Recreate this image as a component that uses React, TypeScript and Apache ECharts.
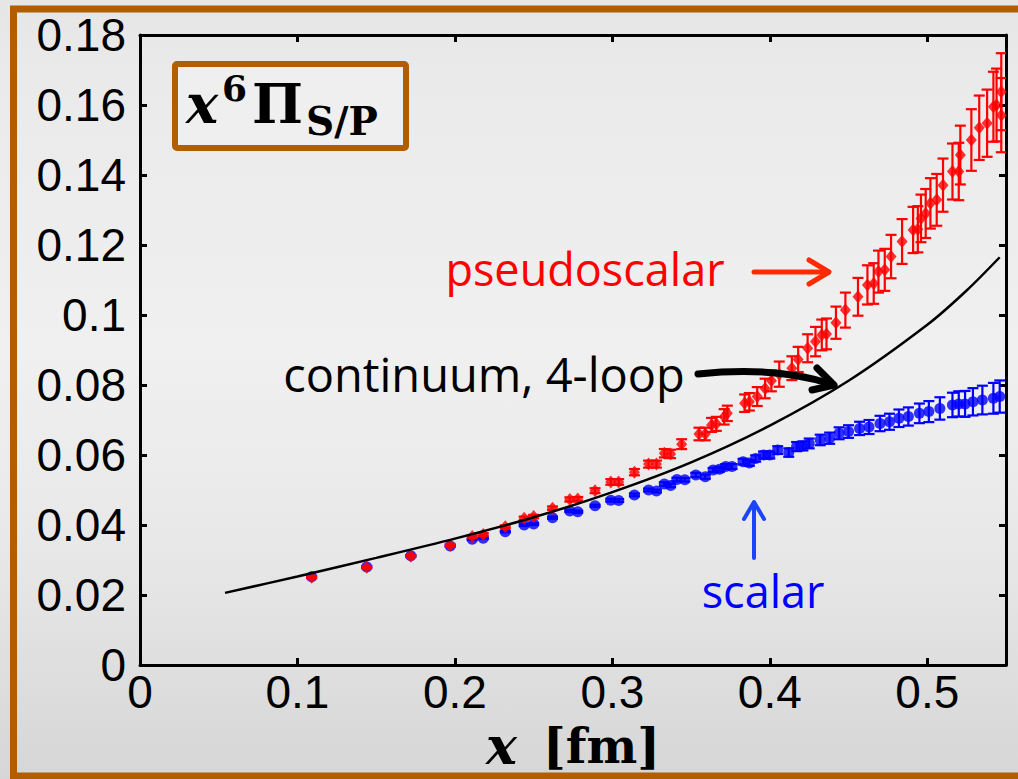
import React, { useEffect, useRef } from "react";
import * as echarts from "echarts";

// Axis ranges and ticks
const xRange = [0, 0.55];
const yRange = [0, 0.18];
const xStep = 0.1;
const yStep = 0.02;

// Pseudoscalar correlator: position, value, error
const pseudoX = [
  0.109, 0.144, 0.172, 0.197, 0.211, 0.218, 0.232, 0.244, 0.25, 0.262, 0.273, 0.278, 0.289,
  0.299, 0.304, 0.314, 0.323, 0.328, 0.333, 0.337, 0.344, 0.355, 0.359, 0.363, 0.366, 0.371,
  0.373, 0.384, 0.387, 0.392, 0.397, 0.401, 0.406, 0.414, 0.418, 0.424, 0.429, 0.433, 0.436,
  0.442, 0.448, 0.456, 0.462, 0.466, 0.469, 0.473, 0.477, 0.484, 0.491, 0.494, 0.496, 0.499,
  0.502, 0.506, 0.51, 0.516, 0.52, 0.521, 0.528, 0.533, 0.538, 0.542, 0.544, 0.547, 0.547,
];
const pseudoY = [
  0.0251, 0.0279, 0.0311, 0.0342, 0.0367, 0.0373, 0.0395, 0.0419, 0.0424, 0.0448, 0.0473,
  0.0474, 0.0498, 0.0523, 0.0523, 0.0551, 0.0574, 0.0574, 0.0605, 0.0603, 0.0631, 0.066,
  0.066, 0.0686, 0.0689, 0.0709, 0.0719, 0.0748, 0.0752, 0.0767, 0.079, 0.0812, 0.0831,
  0.0848, 0.0873, 0.0905, 0.0924, 0.0943, 0.0946, 0.0978, 0.1014, 0.1052, 0.1086, 0.109,
  0.1124, 0.1129, 0.1167, 0.121, 0.1243, 0.1245, 0.1276, 0.129, 0.1319, 0.1329, 0.1371,
  0.141, 0.141, 0.1457, 0.15, 0.1535, 0.1548, 0.1595, 0.16, 0.1571, 0.1638,
];
const pseudoErr = [
  0.0003, 0.0003, 0.0003, 0.0004, 0.0004, 0.0004, 0.0004, 0.0005, 0.0005, 0.0005, 0.0006,
  0.0006, 0.0007, 0.0008, 0.0008, 0.0009, 0.001, 0.001, 0.0012, 0.0012, 0.0014, 0.0018,
  0.0018, 0.002, 0.002, 0.0022, 0.0022, 0.0025, 0.0025, 0.0027, 0.0028, 0.003, 0.0036,
  0.0034, 0.0036, 0.004, 0.0042, 0.0044, 0.0044, 0.0046, 0.005, 0.0054, 0.0056, 0.0058,
  0.006, 0.006, 0.0062, 0.0064, 0.0066, 0.0066, 0.0068, 0.007, 0.0072, 0.0074, 0.0076,
  0.008, 0.0082, 0.0084, 0.0088, 0.0092, 0.0096, 0.01, 0.0104, 0.0106, 0.011,
];

// Scalar correlator: position, value, error
const scalarX = [
  0.109, 0.144, 0.172, 0.197, 0.211, 0.218, 0.232, 0.244, 0.25, 0.262, 0.273, 0.278, 0.289,
  0.299, 0.304, 0.314, 0.323, 0.328, 0.333, 0.337, 0.341, 0.346, 0.353, 0.359, 0.364, 0.368,
  0.372, 0.376, 0.383, 0.387, 0.391, 0.396, 0.4, 0.405, 0.412, 0.417, 0.421, 0.425, 0.432,
  0.438, 0.444, 0.45, 0.457, 0.463, 0.47, 0.476, 0.482, 0.488, 0.495, 0.501, 0.508, 0.516,
  0.52, 0.524, 0.529, 0.535, 0.542, 0.546,
];
const scalarY = [
  0.0252, 0.028, 0.0312, 0.034, 0.0359, 0.0362, 0.0381, 0.04, 0.0403, 0.0421, 0.044, 0.0438,
  0.0455, 0.0471, 0.047, 0.0486, 0.05, 0.0497, 0.0517, 0.0513, 0.053, 0.0529, 0.0543,
  0.0538, 0.0557, 0.0559, 0.0567, 0.0567, 0.0581, 0.0577, 0.059, 0.06, 0.06, 0.0614,
  0.0607, 0.0624, 0.0626, 0.0633, 0.0643, 0.0648, 0.0662, 0.0667, 0.0676, 0.068, 0.069,
  0.0695, 0.0705, 0.071, 0.0719, 0.0724, 0.0733, 0.0743, 0.0746, 0.0746, 0.0752, 0.0757,
  0.0762, 0.0767,
];
const scalarErr = [
  0.0002, 0.0002, 0.0002, 0.0002, 0.0002, 0.0002, 0.0002, 0.0003, 0.0003, 0.0003, 0.0003,
  0.0003, 0.0003, 0.0004, 0.0004, 0.0004, 0.0004, 0.0004, 0.0005, 0.0005, 0.0005, 0.0005,
  0.0006, 0.0006, 0.0006, 0.0007, 0.0007, 0.0007, 0.0008, 0.0008, 0.0009, 0.001, 0.001,
  0.0011, 0.0012, 0.0013, 0.0013, 0.0014, 0.0015, 0.0016, 0.0017, 0.0018, 0.0019, 0.002,
  0.0022, 0.0023, 0.0025, 0.0026, 0.0028, 0.003, 0.0032, 0.0035, 0.0036, 0.0037, 0.0039,
  0.0041, 0.0044, 0.0046,
];

// Continuum 4-loop perturbative curve
const continuumX = [0.054, 0.1, 0.15, 0.2, 0.25, 0.3, 0.35, 0.4, 0.45, 0.5, 0.525, 0.546];
const continuumY = [0.0206, 0.0253, 0.0306, 0.0361, 0.0422, 0.0494, 0.0579, 0.0684, 0.0812, 0.0972, 0.107, 0.1165];

const BROWN = "#b05e00";
const RED = "#ff0000";
const BLUE = "#0000ff";

const fmtY = (v: number) => String(Number(v.toFixed(2)));
const fmtX = (v: number) =>
  Math.abs(v * 10 - Math.round(v * 10)) < 1e-6 ? String(Number(v.toFixed(1))) : "";

function errorBars(xs: number[], ys: number[], errs: number[], color: string, z: number) {
  return {
    type: "custom",
    z,
    clip: true,
    silent: true,
    data: xs.map((x, i) => [x, ys[i] - errs[i], ys[i] + errs[i]]),
    encode: { x: 0, y: [1, 2] },
    renderItem: (_params: any, api: any) => {
      const x = api.value(0);
      const lo = api.coord([x, api.value(1)]);
      const hi = api.coord([x, api.value(2)]);
      const half = 5.5;
      const style = { stroke: color, lineWidth: 2.2 };
      return {
        type: "group",
        children: [
          { type: "line", shape: { x1: lo[0], y1: lo[1], x2: hi[0], y2: hi[1] }, style },
          { type: "line", shape: { x1: lo[0] - half, y1: lo[1], x2: lo[0] + half, y2: lo[1] }, style },
          { type: "line", shape: { x1: hi[0] - half, y1: hi[1], x2: hi[0] + half, y2: hi[1] }, style },
        ],
      };
    },
  };
}

const axisCommon = {
  axisLine: { show: true, onZero: false, lineStyle: { color: "#000", width: 3 } },
  axisTick: { show: true, inside: true, length: 7, lineStyle: { color: "#000", width: 3 } },
  splitLine: { show: false },
};

export default function App() {
  const ref = useRef<HTMLDivElement>(null);

  useEffect(() => {
    if (!ref.current) return;
    const chart = echarts.init(ref.current, undefined, { renderer: "svg" });

    const annText = (text: string, x: number, y: number, color: string, size = 45) => ({
      type: "text",
      x,
      y,
      z: 50,
      style: {
        text,
        fill: color,
        fontFamily: "Open Sans",
        fontSize: size,
        textAlign: "center",
        textVerticalAlign: "middle",
      },
    });

    const serif = (text: string, x: number, y: number, size: number, italic = false) => ({
      type: "text",
      x,
      y,
      z: 60,
      style: {
        text,
        fill: "#000",
        fontFamily: "DejaVu Serif",
        fontWeight: "bold",
        fontStyle: italic ? "italic" : "normal",
        fontSize: size,
        textAlign: "left",
        textVerticalAlign: "middle",
      },
    });

    chart.setOption({
      animation: false,
      backgroundColor: new echarts.graphic.LinearGradient(0, 0, 0, 1, [
        { offset: 0, color: "#e6e6e6" },
        { offset: 0.1, color: "#eaeaea" },
        { offset: 0.45, color: "#f0f0f0" },
        { offset: 0.7, color: "#e8e8e8" },
        { offset: 1, color: "#d6d6d6" },
      ]),
      grid: { left: 140, right: 12, top: 35, bottom: 114, containLabel: false },
      xAxis: [
        {
          ...axisCommon,
          type: "value",
          position: "bottom",
          min: xRange[0],
          max: xRange[1],
          interval: xStep,
          axisLabel: {
            show: true,
            formatter: fmtX,
            color: "#000",
            fontFamily: "Liberation Sans",
            fontSize: 46,
            margin: 4,
            showMaxLabel: false,
          },
          name: "{v|x}{u|[fm]}",
          nameLocation: "middle",
          nameGap: 44,
          nameTextStyle: {
            fontSize: 30,
            rich: {
              v: {
                fontFamily: "DejaVu Serif",
                fontStyle: "italic",
                fontWeight: "bold",
                fontSize: 52,
                color: "#000",
                padding: [0, 26, 0, 0],
              },
              u: { fontFamily: "DejaVu Serif", fontWeight: "bold", fontSize: 48, color: "#000" },
            },
          },
        },
        {
          ...axisCommon,
          type: "value",
          position: "top",
          min: xRange[0],
          max: xRange[1],
          interval: xStep,
          axisLabel: { show: false },
        },
      ],
      yAxis: [
        {
          ...axisCommon,
          type: "value",
          position: "left",
          min: yRange[0],
          max: yRange[1],
          interval: yStep,
          axisLabel: {
            show: true,
            formatter: fmtY,
            color: "#000",
            fontFamily: "Liberation Sans",
            fontSize: 46,
            margin: 14,
          },
        },
        {
          ...axisCommon,
          type: "value",
          position: "right",
          min: yRange[0],
          max: yRange[1],
          interval: yStep,
          axisLabel: { show: false },
        },
      ],
      series: [
        errorBars(scalarX, scalarY, scalarErr, BLUE, 2),
        {
          type: "scatter",
          z: 3,
          symbol: "circle",
          symbolSize: 11,
          itemStyle: { color: BLUE },
          data: scalarX.map((x, i) => [x, scalarY[i]]),
        },
        errorBars(pseudoX, pseudoY, pseudoErr, RED, 4),
        {
          type: "scatter",
          z: 5,
          symbol: "diamond",
          symbolSize: [11, 13],
          itemStyle: { color: RED },
          data: pseudoX.map((x, i) => [x, pseudoY[i]]),
        },
        {
          type: "line",
          z: 6,
          smooth: 0.3,
          showSymbol: false,
          symbol: "none",
          lineStyle: { color: "#000", width: 2.5 },
          data: continuumX.map((x, i) => [x, continuumY[i]]),
        },
      ],
      graphic: [
        // outer frame
        {
          type: "rect",
          z: 40,
          shape: { x: 13.5, y: 9, width: 1040, height: 767 },
          style: { fill: "none", stroke: BROWN, lineWidth: 7 },
        },
        // title box
        {
          type: "rect",
          z: 55,
          shape: { x: 175, y: 64, width: 231, height: 84, r: 2 },
          style: { fill: "#efefef", stroke: BROWN, lineWidth: 6 },
        },
        serif("x", 186, 104, 54, true),
        serif("6", 222, 88, 36),
        serif("Π", 252, 104, 54),
        serif("S/P", 306, 121, 39),
        // annotations
        annText("pseudoscalar", 585, 268, RED),
        annText("continuum, 4-loop", 484, 374, "#000", 47),
        annText("scalar", 763, 590, BLUE),
        // arrows
        {
          type: "line",
          z: 50,
          shape: { x1: 754, y1: 272, x2: 828, y2: 272 },
          style: { stroke: "#ff2a00", lineWidth: 5, lineCap: "round" },
        },
        {
          type: "polyline",
          z: 50,
          shape: { points: [[809, 260], [829, 272], [809, 284]] },
          style: { stroke: "#ff2a00", lineWidth: 5, lineCap: "round", lineJoin: "round", fill: "none" },
        },
        {
          type: "bezierCurve",
          z: 50,
          shape: { x1: 698, y1: 374, cpx1: 775, cpy1: 366, x2: 831, y2: 384 },
          style: { stroke: "#000", lineWidth: 7, lineCap: "round", fill: "none" },
        },
        {
          type: "polyline",
          z: 50,
          shape: { points: [[817, 368], [834, 385], [812, 390]] },
          style: { stroke: "#000", lineWidth: 7, lineCap: "round", lineJoin: "round", fill: "none" },
        },
        {
          type: "line",
          z: 50,
          shape: { x1: 754, y1: 558, x2: 754, y2: 503 },
          style: { stroke: "#1a44ff", lineWidth: 4, lineCap: "round" },
        },
        {
          type: "polyline",
          z: 50,
          shape: { points: [[744, 519], [754, 502], [764, 519]] },
          style: { stroke: "#1a44ff", lineWidth: 4, lineCap: "round", lineJoin: "round", fill: "none" },
        },
      ],
    });

    return () => chart.dispose();
  }, []);

  return (
    <div
      ref={ref}
      style={{ position: "fixed", left: 0, top: 0, width: 1018, height: 779 }}
    />
  );
}
